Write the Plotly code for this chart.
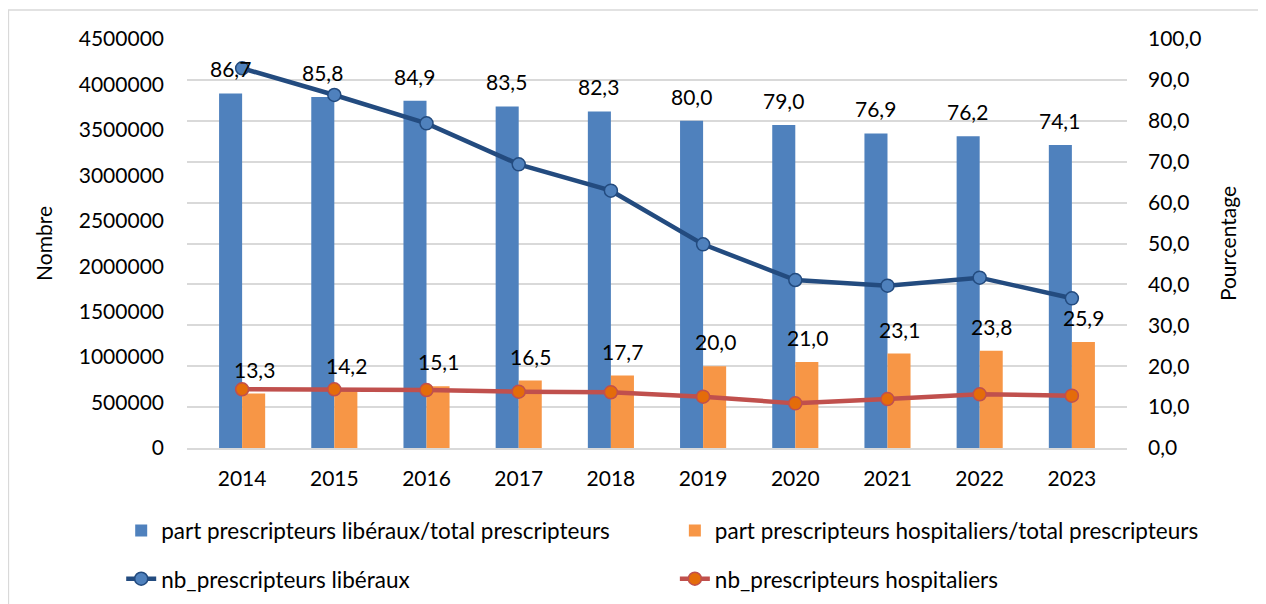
import plotly.graph_objects as go

years = ['2014', '2015', '2016', '2017', '2018', '2019', '2020', '2021', '2022', '2023']
part_liberaux = [86.7, 85.8, 84.9, 83.5, 82.3, 80.0, 79.0, 76.9, 76.2, 74.1]
part_hospitaliers = [13.3, 14.2, 15.1, 16.5, 17.7, 20.0, 21.0, 23.1, 23.8, 25.9]
nb_liberaux = [4178000, 3884000, 3572000, 3121000, 2831000, 2241000, 1848000, 1786000, 1874000, 1647000]
nb_hospitaliers = [646000, 646000, 638000, 620000, 613000, 565000, 491000, 539000, 591000, 576000]

FONT = "Lato"
FS = 21
BLUE = '#4F81BD'
ORANGE = '#F79646'
NAVY = '#234B7F'
RED = '#C0504D'

fig = go.Figure()

fig.add_trace(go.Bar(
    x=years, y=part_liberaux, name='part prescripteurs libéraux/total prescripteurs',
    marker=dict(color=BLUE, line=dict(width=0)), yaxis='y',
    legend='legend', legendgroup='a'))
fig.add_trace(go.Bar(
    x=years, y=part_hospitaliers, name='part prescripteurs hospitaliers/total prescripteurs',
    marker=dict(color=ORANGE, line=dict(width=0)), yaxis='y',
    legend='legend2', legendgroup='b'))
fig.add_trace(go.Scatter(
    x=years, y=nb_liberaux, name='nb_prescripteurs libéraux', mode='lines+markers',
    line=dict(color=NAVY, width=4.5),
    marker=dict(size=13, color=BLUE, line=dict(color=NAVY, width=1.5)),
    yaxis='y2', legend='legend', legendgroup='c'))
fig.add_trace(go.Scatter(
    x=years, y=nb_hospitaliers, name='nb_prescripteurs hospitaliers', mode='lines+markers',
    line=dict(color=RED, width=4.5),
    marker=dict(size=13, color='#E46C0A', line=dict(color=RED, width=1.5)),
    yaxis='y2', legend='legend2', legendgroup='d'))

# category axis: annotations are placed by category index
annotations = []
for i, v in enumerate(part_liberaux):
    annotations.append(dict(x=i, y=v, xref='x', yref='y', text=f'{v:.1f}'.replace('.', ','),
                            showarrow=False, yanchor='bottom', xshift=-12, yshift=10,
                            font=dict(family=FONT, size=FS, color='#000000')))
for i, v in enumerate(part_hospitaliers):
    annotations.append(dict(x=i, y=v, xref='x', yref='y', text=f'{v:.1f}'.replace('.', ','),
                            showarrow=False, yanchor='bottom', xshift=12, yshift=10,
                            font=dict(family=FONT, size=FS, color='#000000')))

legend_style = dict(orientation='v', xanchor='left', yanchor='top', y=-0.15,
                    bgcolor='rgba(0,0,0,0)', traceorder='grouped', tracegroupgap=16,
                    font=dict(family=FONT, size=22.5, color='#000000'), itemwidth=30)

# page body has an 8px margin, so the margins are shifted by 8px
fig.update_layout(
    width=1266, height=604,
    paper_bgcolor='white', plot_bgcolor='white',
    font=dict(family=FONT, size=FS, color='#000000'),
    separators=', ',
    barmode='group', bargap=0.5, bargroupgap=0,
    margin=dict(l=179, r=147, t=31, b=164, autoexpand=False),
    xaxis=dict(type='category', showgrid=False, showline=True, linecolor='#D9D9D9',
               linewidth=1.5, ticks='', ticklabelstandoff=11,
               tickfont=dict(family=FONT, size=FS)),
    yaxis=dict(side='right', range=[0, 100], dtick=10, tickformat='.1f',
               showgrid=True, gridcolor='#D9D9D9', gridwidth=1.5, zeroline=False,
               ticks='', ticklabelstandoff=20,
               title=dict(text='Pourcentage', standoff=20, font=dict(family=FONT, size=FS)),
               tickfont=dict(family=FONT, size=FS)),
    yaxis2=dict(side='left', overlaying='y', range=[0, 4500000], dtick=500000,
                tickformat='d', showgrid=False, zeroline=False, ticks='',
                ticklabelstandoff=22,
                title=dict(text='Nombre', standoff=20, font=dict(family=FONT, size=FS)),
                tickfont=dict(family=FONT, size=FS)),
    legend=dict(x=-0.07, **legend_style),
    legend2=dict(x=0.519, **legend_style),
    annotations=annotations,
    shapes=[dict(type='rect', xref='paper', yref='paper', x0=-0.19, x1=1.16,
                 y0=-0.40, y1=1.071, line=dict(color='#D9D9D9', width=1.5),
                 fillcolor='rgba(0,0,0,0)', layer='below')],
)

fig.write_html("out.html")
